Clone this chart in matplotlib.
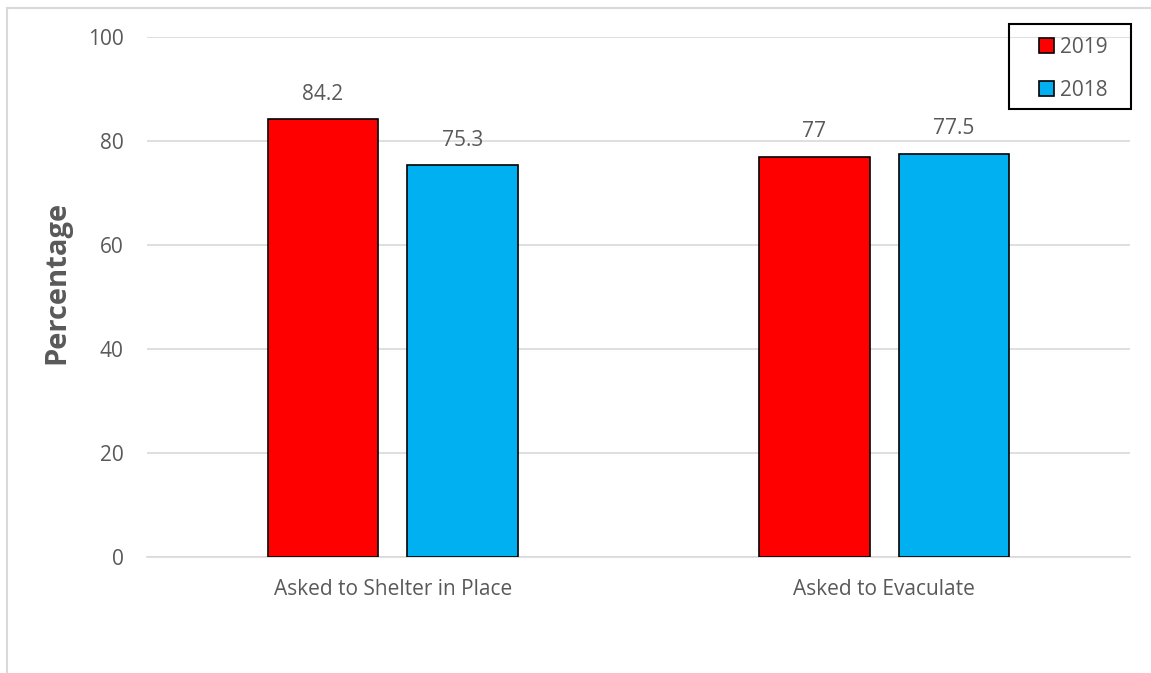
import numpy as np
import matplotlib.pyplot as plt
from matplotlib.patches import Rectangle
from matplotlib.lines import Line2D

# Data
categories = ["Asked to Shelter in Place", "Asked to Evaculate"]
series_names = ["2019", "2018"]
values_2019 = [84.2, 77]
values_2018 = [75.3, 77.5]
labels_2019 = ["84.2", "77"]
labels_2018 = ["75.3", "77.5"]

# Styles
colours = ["#ff0000", "#00b0f0"]
text_col = "#595959"
grid_col = "#d9d9d9"
plt.rcParams["font.family"] = ["Open Sans", "DejaVu Sans"]

W, H = 1151, 673

# Figure
fig = plt.figure(figsize=(W/100, H/100), dpi=100)
ax = fig.add_axes([147/W, 116/H, 983/W, 520/H])

x = np.arange(len(categories))
width = 0.224
offset = 0.142
bars_a = ax.bar(x - offset, values_2019, width, color=colours[0], edgecolor="black", linewidth=1.2, label=series_names[0], zorder=3)
bars_b = ax.bar(x + offset, values_2018, width, color=colours[1], edgecolor="black", linewidth=1.2, label=series_names[1], zorder=3)

# Value labels
for bars, labs in [(bars_a, labels_2019), (bars_b, labels_2018)]:
    for b, lab in zip(bars, labs):
        ax.annotate(lab, (b.get_x() + b.get_width()/2, b.get_height()), xytext=(0, 18),
                    textcoords="offset points", ha="center", va="center", fontsize=15, color=text_col)

# Axes
ax.set_xlim(-0.5, 1.5)
ax.set_ylim(0, 100)
ax.set_yticks(range(0, 101, 20))
ax.yaxis.grid(True, color=grid_col, linewidth=1.2, zorder=0)
ax.set_axisbelow(True)
for s in ["top", "right", "left"]:
    ax.spines[s].set_visible(False)
ax.spines["bottom"].set_color(grid_col)
ax.spines["bottom"].set_linewidth(1.2)
ax.tick_params(axis="both", length=0, labelsize=15, labelcolor=text_col)
ax.tick_params(axis="y", pad=17)
ax.tick_params(axis="x", pad=16)
ax.set_xticks(x)
ax.set_xticklabels(categories)
fig.text(57/W, 1 - 282/H, "Percentage", rotation=90, ha="center", va="center",
         fontsize=21, fontweight="bold", color=text_col)

# Legend
leg = ax.legend(loc="upper left", bbox_to_anchor=(1039/W, 1 - 37/H), bbox_transform=fig.transFigure,
                frameon=False, fontsize=15, handlelength=0.7, handleheight=0.7,
                handletextpad=0.3, labelspacing=1.05, borderpad=0, borderaxespad=0)
for t in leg.get_texts():
    t.set_color(text_col)
fig.add_artist(Rectangle((1009/W, 1 - 109/H), 122/W, 85/H, transform=fig.transFigure,
                         fill=False, edgecolor="black", linewidth=1.5))

# Chart border (left and top visible)
fig.add_artist(Line2D([7/W, 7/W], [0, 1 - 8/H], color=grid_col, linewidth=1.5))
fig.add_artist(Line2D([7/W, 1], [1 - 8/H, 1 - 8/H], color=grid_col, linewidth=1.5))

fig.savefig("out.png", dpi=100)
